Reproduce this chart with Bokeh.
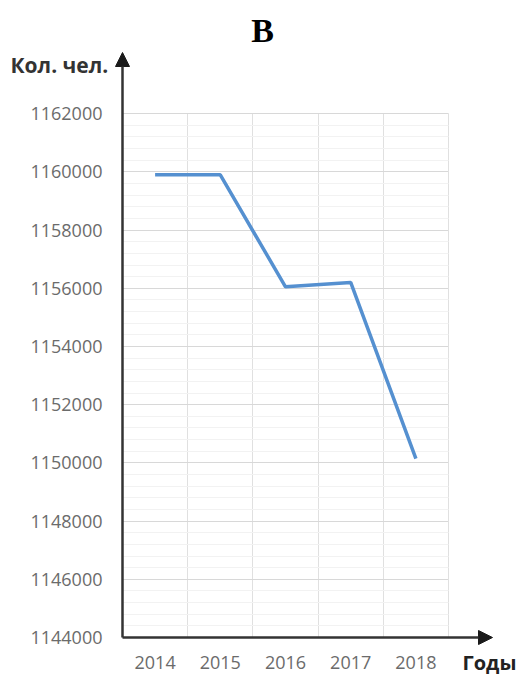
from bokeh.plotting import figure
from bokeh.models import (FixedTicker, NumeralTickFormatter, Arrow, NormalHead, Label, Range1d, Grid)
from bokeh.embed import file_html
from bokeh.resources import INLINE

years = ["2014", "2015", "2016", "2017", "2018"]
people = [1159900, 1159900, 1156050, 1156200, 1150150]
y_ticks = [1144000, 1146000, 1148000, 1150000, 1152000, 1154000, 1156000, 1158000, 1160000, 1162000]
y_minor = list(range(y_ticks[0], y_ticks[-1] + 1, 400))

W, H = 521, 675
# layout: pixel scale of the chart
PX_PER_X = 65.2          # pixels per category
PX_PER_Y = 0.0291        # pixels per person
ORIGIN_PX = (122, 637)   # where the axes cross, from top-left

xs = [i + 0.5 for i in range(len(years))]
y0 = y_ticks[0]

x_start = -ORIGIN_PX[0] / PX_PER_X
x_end = x_start + W / PX_PER_X
y_end = y0 + ORIGIN_PX[1] / PX_PER_Y
y_start = y_end - H / PX_PER_Y

def dx(px):
    return x_start + px / PX_PER_X

def dy(py):
    return y_end - py / PX_PER_Y

p = figure(width=W, height=H, output_backend="svg", toolbar_location=None,
           x_range=Range1d(x_start, x_end), y_range=Range1d(y_start, y_end),
           min_border_left=0, min_border_right=0, min_border_bottom=0, min_border_top=0)
p.title.visible = False
p.outline_line_color = None
p.background_fill_color = "white"
p.border_fill_color = "white"

# axes drawn at the origin
p.xaxis.fixed_location = y0
p.yaxis.fixed_location = 0
p.xaxis.ticker = FixedTicker(ticks=xs)
p.xaxis.major_label_overrides = {x: y for x, y in zip(xs, years)}
p.yaxis.ticker = FixedTicker(ticks=y_ticks)
p.yaxis.formatter = NumeralTickFormatter(format="0")
for ax in (p.xaxis[0], p.yaxis[0]):
    ax.axis_line_color = None
    ax.major_tick_line_color = None
    ax.minor_tick_line_color = None
    ax.major_tick_out = 0
    ax.major_tick_in = 0
    ax.major_label_text_font = "Open Sans"
    ax.major_label_text_font_size = "18px"
    ax.major_label_text_color = "#6b6b6b"
p.yaxis.major_label_standoff = 20
p.xaxis.major_label_standoff = 18

# grids
p.xgrid.visible = False
p.ygrid.visible = False
vgrid = Grid(dimension=0, ticker=FixedTicker(ticks=list(range(1, len(years) + 1))),
             grid_line_color="#e0e0e0", cross_bounds=(y0, y_ticks[-1]))
hgrid = Grid(dimension=1, ticker=FixedTicker(ticks=y_ticks, minor_ticks=y_minor),
             grid_line_color="#d8d8d8", minor_grid_line_color="#f2f2f2",
             cross_bounds=(0, len(years)))
p.add_layout(vgrid)
p.add_layout(hgrid)

# data line
p.line(xs, people, line_color="#5590d0", line_width=3.5)

# axis arrows
head_kw = dict(size=14, fill_color="#1a1a1a", line_color="#1a1a1a")
p.add_layout(Arrow(end=NormalHead(**head_kw), x_start=0, y_start=y0, x_end=0, y_end=dy(52),
                   line_width=2.5, line_color="#333333"))
p.add_layout(Arrow(end=NormalHead(**head_kw), x_start=0, y_start=y0, x_end=dx(492), y_end=y0,
                   line_width=2.5, line_color="#333333"))

p.add_layout(Label(x=dx(262), y=dy(30), text="В", text_align="center", text_baseline="middle",
                   text_font="Liberation Serif", text_font_style="bold", text_font_size="34px",
                   text_color="#000000"))
p.add_layout(Label(x=dx(10), y=dy(64), text="Кол. чел.", text_align="left",
                   text_baseline="middle", text_font="Open Sans", text_font_style="bold",
                   text_font_size="21px", text_color="#333333"))
p.add_layout(Label(x=dx(462), y=dy(662), text="Годы", text_align="left",
                   text_baseline="middle", text_font="Open Sans", text_font_style="bold",
                   text_font_size="20px", text_color="#222222"))

open("out.html", "w").write(file_html(p, INLINE))
